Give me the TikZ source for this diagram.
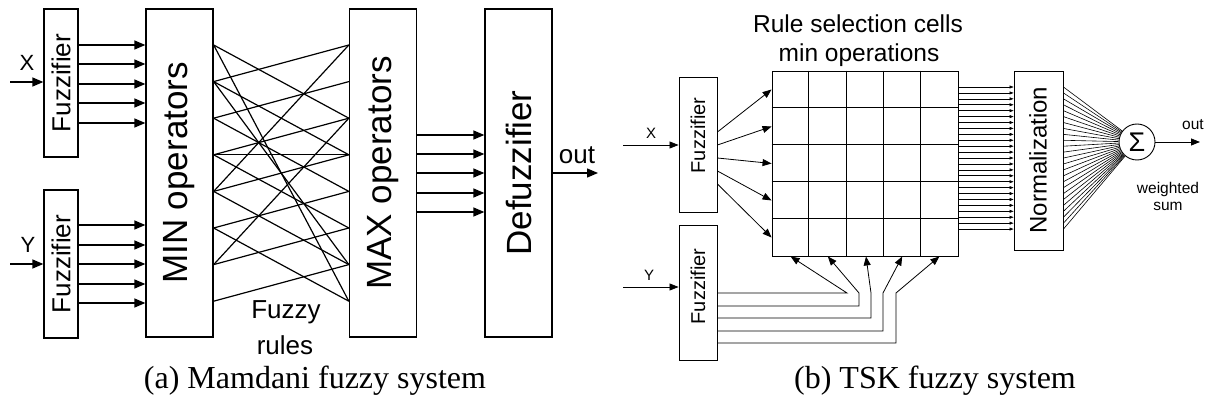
\documentclass[tikz,border=0pt]{standalone}
\usepackage{fontspec}
\setmainfont{Liberation Sans}
\newfontfamily\capfont{Liberation Serif}
\usetikzlibrary{arrows.meta,calc}
\begin{document}
\begin{tikzpicture}[x=1pt,y=-1pt,
  mbox/.style={draw, line width=1.3pt, inner sep=0pt},
  tbox/.style={draw, line width=0.9pt, inner sep=0pt},
  marr/.style={line width=1.3pt, -{Triangle[length=11pt,width=9pt]}},
  mline/.style={line width=1.2pt},
  tarr/.style={line width=0.8pt, -{Triangle[length=9pt,width=7pt]}},
  tline/.style={line width=0.8pt},
  narr/.style={line width=0.6pt, -{Triangle[length=4pt,width=3pt]}},
  fan/.style={line width=0.6pt},
  fbig/.style={font=\fontsize{35}{35}\selectfont},
  fmid/.style={font=\fontsize{26}{26}\selectfont},
  ftitle/.style={font=\fontsize{24.5}{24.5}\selectfont},
  fnorm/.style={font=\fontsize{24}{24}\selectfont},
  ftsk/.style={font=\fontsize{20}{20}\selectfont},
  fsmall/.style={font=\fontsize{15.5}{15.5}\selectfont},
  fcap/.style={font=\capfont\fontsize{32}{32}\selectfont}]
\useasboundingbox (0,0) rectangle (1216,406);

% ---------------- (a) Mamdani ----------------
\node[mbox, fmid, minimum width=34pt, minimum height=148pt] (fxa) at (61,83) {\rotatebox{90}{Fuzzifier}};
\node[mbox, fmid, minimum width=34pt, minimum height=148pt] (fya) at (61,264) {\rotatebox{90}{Fuzzifier}};
\node[mbox, fbig, minimum width=67pt, minimum height=328pt] (mina) at (179.5,173) {\rotatebox{90}{MIN operators}};
\node[mbox, fbig, minimum width=67pt, minimum height=328pt] (maxa) at (383,173) {\rotatebox{90}{MAX operators}};
\node[mbox, fbig, minimum width=67pt, minimum height=328pt] (dfa) at (518.5,173) {\rotatebox{90}{Defuzzifier}};

\coordinate (xina) at (10,82);
\coordinate (yina) at (10,264);
\draw[marr] (xina) -- (fxa.west |- xina);
\draw[marr] (yina) -- (fya.west |- yina);
\node[font=\fontsize{22}{22}\selectfont] (xla) at (27,63) {X};
\node[font=\fontsize{22}{22}\selectfont] (yla) at (28,245) {Y};

\foreach \y in {45,64,84,103,123} {
  \draw[marr] (fxa.east |- 0,\y) -- (mina.west |- 0,\y);
}
\foreach \y in {225,245,264,284,303} {
  \draw[marr] (fya.east |- 0,\y) -- (mina.west |- 0,\y);
}
\foreach \y in {135,154,173,193,212} {
  \draw[marr] (maxa.east |- 0,\y) -- (dfa.west |- 0,\y);
}
\coordinate (outa) at (598,173);
\draw[marr] (dfa.east |- outa) -- (outa);
\node[fmid] (outla) at (577,155) {out};

% crossing lines (fuzzy rules)
\foreach \i in {1,...,8} {
  \coordinate (L\i) at ($(mina.east |- 0,{45+36.6*(\i-1)})$);
  \coordinate (R\i) at ($(maxa.west |- 0,{45+36.6*(\i-1)})$);
}
\foreach \a/\b in {2/1,3/2,4/3,5/4,6/5,7/6,8/7,
                   1/3,2/4,3/5,4/6,5/7,6/8,
                   4/4,1/8,5/1,7/3,2/7} {
  \draw[mline] (L\a) -- (R\b);
}
\node[fmid, anchor=base] (fr1) at (286,318) {Fuzzy};
\node[fmid, anchor=base] (fr2) at (285,354) {rules};

\node[fcap, anchor=base] (capa) at (315,388) {(a) Mamdani fuzzy system};

% ---------------- (b) TSK ----------------
\node[tbox, minimum width=38pt, minimum height=135pt] (fxb) at (698,144.5) {};
\node[ftsk] (fxbt) at (698,135.5) {\rotatebox{90}{Fuzzifier}};
\node[tbox, minimum width=38pt, minimum height=135pt] (fyb) at (698,292.5) {};
\node[ftsk] (fybt) at (698,286.5) {\rotatebox{90}{Fuzzifier}};

\coordinate (xinb) at (623,145);
\coordinate (yinb) at (623,287);
\draw[tarr] (xinb) -- (fxb.west |- xinb);
\draw[tarr] (yinb) -- (fyb.west |- yinb);
\node[font=\fontsize{15}{15}\selectfont] (xlb) at (651,133) {X};
\node[font=\fontsize{15}{15}\selectfont] (ylb) at (649,275) {Y};

% grid of rule cells
\node[tbox, minimum width=186pt, minimum height=185pt] (grid) at (865,163.5) {};
\foreach \k in {1,...,4} {
  \draw[tline] ($(grid.north west)+({37.2*\k},0)$) -- ($(grid.south west)+({37.2*\k},0)$);
  \draw[tline] ($(grid.north west)+(0,{37*\k})$) -- ($(grid.north east)+(0,{37*\k})$);
}
\node[ftitle, anchor=base] (t1) at (858,33) {Rule selection cells};
\node[ftitle, anchor=base] (t2) at (859,62) {min operations};

\foreach \k in {0,...,4} {
  \draw[tarr] (fxb.east |- 0,{132+13*\k}) -- (grid.west |- 0,{89.5+37*\k});
}
\draw[tarr] (fyb.east |- 0,293) -- (847,293) -- (790.6,0 |- grid.south);
\draw[tarr] (fyb.east |- 0,306) -- (859,306) -- (859,293) -- (827.8,0 |- grid.south);
\draw[tarr] (fyb.east |- 0,318) -- (871,318) -- (871,293) -- (866,0 |- grid.south);
\draw[tarr] (fyb.east |- 0,331) -- (883,331) -- (883,293) -- (902.2,0 |- grid.south);
\draw[tarr] (fyb.east |- 0,343) -- (896,343) -- (896,293) -- (939.4,0 |- grid.south);

% normalization
\node[tbox, minimum width=49pt, minimum height=179pt] (norm) at (1038.5,160.5) {};
\node[fnorm] (normt) at (1038,160) {\rotatebox{90}{Normalization}};
\node[tbox, circle, minimum size=36pt, font=\fontsize{27}{27}\selectfont] (sig) at (1137,142) {Σ};

\foreach \k in {0,...,24} {
  \draw[narr] (grid.east |- 0,{87+5.92*\k}) -- (norm.west |- 0,{87+5.92*\k});
  \draw[fan] (norm.east |- 0,{87+5.92*\k}) -- (sig);
}
\coordinate (outb) at (1200,142);
\draw[tarr] (sig) -- (outb);
\node[fsmall] (outlb) at (1193,125) {out};
\node[fsmall] (ws1) at (1168,189) {weighted};
\node[fsmall] (ws2) at (1168,206) {sum};

\node[fcap, anchor=base] (capb) at (935,388) {(b) TSK fuzzy system};
\end{tikzpicture}
\end{document}
